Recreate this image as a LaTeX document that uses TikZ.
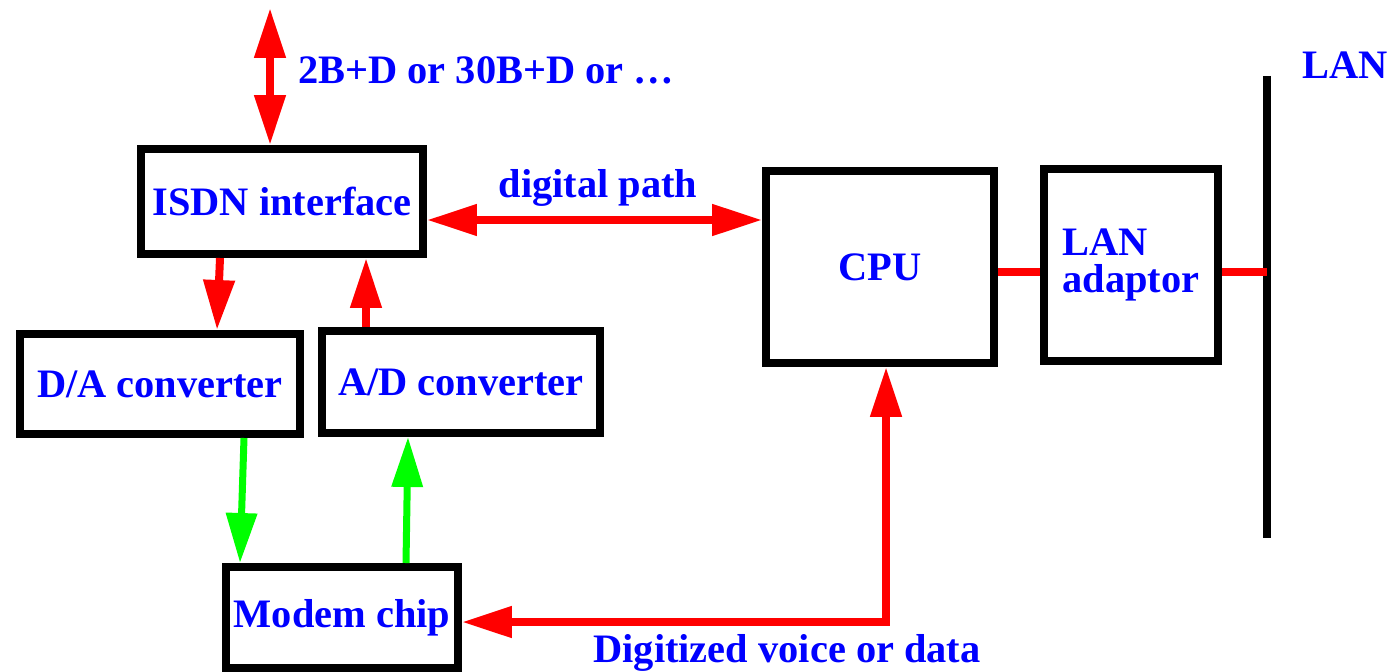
\documentclass[tikz,border=0pt]{standalone}
\usepackage{fontspec}
\setmainfont{Liberation Serif}
\usetikzlibrary{arrows.meta,positioning,calc}
\definecolor{lbl}{RGB}{0,0,255}
\definecolor{sig}{RGB}{255,0,0}
\definecolor{ana}{RGB}{0,255,0}

\begin{document}
\begin{tikzpicture}[x=0.02cm,y=-0.02cm,
  font=\fontsize{23}{21}\selectfont\bfseries,text=lbl,
  >={Triangle[length=1cm,width=0.6cm]},
  blk/.style={draw,line width=0.16cm,inner sep=0pt,align=center},
  sigline/.style={sig,line width=0.16cm},
  analine/.style={ana,line width=0.14cm}]
\useasboundingbox (0,0) rectangle (1388,672);

\node[blk,minimum width=5.64cm,minimum height=2.1cm] (isdn) at (282,201.5) {ISDN interface};
\node[blk,minimum width=4.56cm,minimum height=3.84cm] (cpu) at (880,267) {CPU};
\node[blk,align=left,minimum width=3.48cm,minimum height=3.84cm] (lanad) at (1131,265) {LAN\\adaptor};
\node[blk,minimum width=5.6cm,minimum height=2.0cm] (da) at (160,384) {D/A converter};
\node[blk,minimum width=5.56cm,minimum height=2.04cm] (ad) at (461,382) {A/D converter};
\node[blk,minimum width=4.64cm,minimum height=2.02cm] (modem) at (342,617.5) {Modem chip};

\coordinate (line) at (270,8);
\coordinate (dpath) at (600,220);
\coordinate (bustop) at (1267,76);
\coordinate (busbot) at (1267,538);
\coordinate (tap) at (1267,272);

\draw[sigline,<->] (line) -- (line |- isdn.north);
\node[anchor=west] (rate) at (292,70) {2B+D or 30B+D or \ldots};
\draw[sigline,<->] (isdn.east |- dpath) -- (cpu.west |- dpath);
\node (dlabel) at (598,188) {digital path};

\draw[sigline,->] ($(isdn.south)+(-62,0)$) -- ($(da.north)+(57,0)$);
\draw[sigline,->] ($(ad.north)+(-95,0)$) -- ($(isdn.south)+(84,0)$);
\draw[analine,->] ($(da.south)+(84,0)$) -- ($(modem.north)+(-102,0)$);
\draw[analine,->] ($(modem.north)+(64,0)$) -- ($(ad.south)+(-53,0)$);

\draw[sigline,<->] ($(cpu.south)+(6,0)$) |- ($(modem.east)+(0,4.5)$);
\node (vlabel) at (787,653) {Digitized voice or data};

\draw[line width=0.16cm] (bustop) -- (busbot);
\node (lanlabel) at (1345,65) {LAN};
\draw[sigline] (cpu.east |- tap) -- (lanad.west |- tap);
\draw[sigline] (lanad.east |- tap) -- (tap);
\end{tikzpicture}
\end{document}
